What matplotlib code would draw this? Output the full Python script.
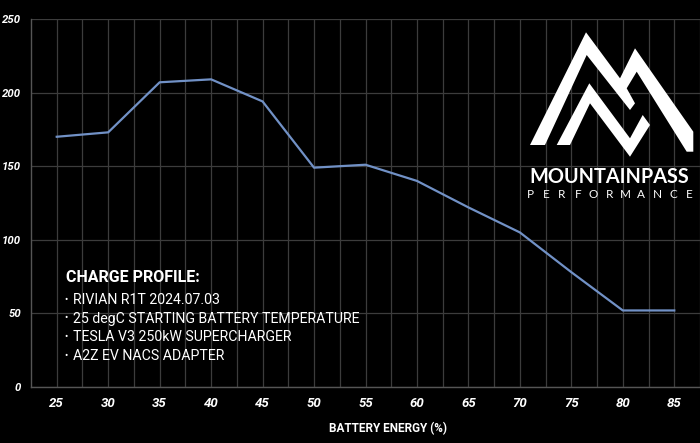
import matplotlib.pyplot as plt
from matplotlib import font_manager
from matplotlib.patches import Polygon

# datos
battery_pct = [25, 30, 35, 40, 45, 50, 55, 60, 65, 70, 75, 80, 85]
power_kw = [170, 173, 207, 209, 194, 149, 151, 140, 122, 105, 78, 52, 52]
y_ticks = [0, 50, 100, 150, 200, 250]
x_ticks = [25, 30, 35, 40, 45, 50, 55, 60, 65, 70, 75, 80, 85]

info_title = "CHARGE PROFILE:"
info_lines = [
    "RIVIAN R1T 2024.07.03",
    "25 degC STARTING BATTERY TEMPERATURE",
    "TESLA V3 250kW SUPERCHARGER",
    "A2Z EV NACS ADAPTER",
]

W, H = 700, 443

# logo (pixeles de la figura, y desde arriba)
logo_outer = [(530, 145), (586, 32.3), (620, 78.3), (635, 48.3), (693.3, 131.7),
              (693.3, 151.7), (686.7, 151.7), (636.7, 71.7), (626.7, 88.3),
              (635, 103.3), (630, 110), (586.7, 55), (545, 145)]
logo_inner = [(556.7, 145), (589.3, 83.3), (630, 138.3), (642.7, 115), (650, 125),
              (630, 156.7), (590, 103.3), (570, 145)]


def px(pts):
    return [(x / W, 1 - y / H) for x, y in pts]


def pick_italic_family():
    # buscar una familia con cursiva negrita instalada
    for fam in ['Roboto', 'Liberation Sans', 'Open Sans', 'Lato', 'DejaVu Sans']:
        for f in font_manager.fontManager.ttflist:
            if f.name == fam and f.style in ('italic', 'oblique'):
                return fam
    return 'DejaVu Sans'


tick_family = pick_italic_family()

fig = plt.figure(figsize=(7, 4.43), dpi=100, facecolor='black')
ax = fig.add_axes([31 / W, 1 - 387 / H, 1 - 31 / W, (387 - 19) / H])
ax.set_facecolor('black')

ax.plot(battery_pct, power_kw, color='#7191c6', linewidth=1.6, zorder=3)

ax.set_xlim(22.5, 87.5)
ax.set_ylim(0, 250)
ax.set_xticks(x_ticks)
ax.set_xticks([x + 2.5 for x in [22.5] + x_ticks[:-1]] + [87.5], minor=True)
ax.set_yticks(y_ticks)
ax.grid(True, which='both', axis='x', color='#3c3c3c', linewidth=0.9)
ax.grid(True, which='major', axis='y', color='#3c3c3c', linewidth=0.9)
ax.set_axisbelow(True)

for side in ['top', 'right']:
    ax.spines[side].set_visible(False)
for side in ['left', 'bottom']:
    ax.spines[side].set_color('#555555')
    ax.spines[side].set_linewidth(1.0)

ax.tick_params(which='both', length=0)
ax.tick_params(axis='x', pad=7)
ax.tick_params(axis='y', pad=7)
for lbl in ax.get_xticklabels():
    lbl.set_fontsize(9.5)
for lbl in ax.get_yticklabels():
    lbl.set_fontsize(8.2)
for lbl in ax.get_xticklabels() + ax.get_yticklabels():
    lbl.set_fontfamily(tick_family)
    lbl.set_fontweight('bold')
    lbl.set_fontstyle('italic')
    lbl.set_color('white')

ax.set_xlabel('BATTERY ENERGY (%)', color='white', fontfamily='Roboto',
              fontweight='bold', fontsize=8.5)
ax.xaxis.set_label_coords((388 - 31) / (W - 31), -0.095)

# bloque de texto
fig.text(66 / W, 1 - 278 / H, info_title, color='white', fontfamily='Roboto',
         fontweight='bold', fontsize=11.5, va='center', ha='left')
for i, line in enumerate(info_lines):
    y = 1 - (300 + i * 18.5) / H
    fig.text(64.5 / W, y, '•', color='white', fontfamily='Roboto', fontsize=7,
             va='center', ha='left')
    fig.text(73 / W, y, line, color='white', fontfamily='Roboto',
             fontsize=10.2, va='center', ha='left')

# logo
for pts in [logo_outer, logo_inner]:
    fig.patches.append(Polygon(px(pts), closed=True, facecolor='white',
                               edgecolor='none', transform=fig.transFigure))

fig.text(609.5 / W, 1 - 177 / H, 'MOUNTAINPASS', color='white',
         fontfamily='Lato', fontweight='bold', fontsize=14.3,
         ha='center', va='center')
perf = 'PERFORMANCE'
for i, ch in enumerate(perf):
    x = 530 + i * (689 - 530) / (len(perf) - 1)
    fig.text(x / W, 1 - 195 / H, ch, color='white', fontfamily='Lato',
             fontsize=8.5, ha='center', va='center')

fig.savefig('out.png', dpi=100, facecolor='black')
